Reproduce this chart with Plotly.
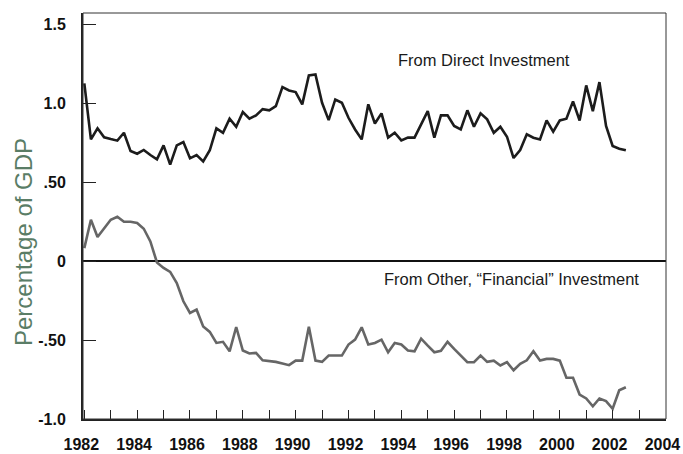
import plotly.graph_objects as go

# Quarterly observations, 1982Q1 .. 2002Q3
start_year = 1982
n_quarters = 83
quarters = [start_year + i * 0.25 for i in range(n_quarters)]

direct_investment = [
    1.127, 0.772, 0.842, 0.785, 0.774, 0.764, 0.814, 0.698, 0.681, 0.705,
    0.673, 0.646, 0.734, 0.612, 0.734, 0.755, 0.652, 0.673, 0.633, 0.703,
    0.842, 0.814, 0.903, 0.852, 0.945, 0.903, 0.924, 0.964, 0.956, 0.983,
    1.103, 1.082, 1.072, 0.994, 1.177, 1.184, 1.004, 0.894, 1.025, 1.004,
    0.909, 0.835, 0.772, 0.994, 0.873, 0.937, 0.783, 0.814, 0.766, 0.783,
    0.783, 0.867, 0.951, 0.783, 0.924, 0.924, 0.857, 0.835, 0.956, 0.852,
    0.937, 0.899, 0.814, 0.852, 0.789, 0.654, 0.705, 0.804, 0.783, 0.772,
    0.892, 0.821, 0.892, 0.903, 1.013, 0.892, 1.114, 0.951, 1.135, 0.857,
    0.730, 0.713, 0.703,
]

financial_investment = [
    0.083, 0.263, 0.153, 0.210, 0.263, 0.282, 0.250, 0.250, 0.242, 0.206,
    0.125, -0.008, -0.043, -0.068, -0.138, -0.254, -0.328, -0.307, -0.413, -0.448,
    -0.518, -0.511, -0.571, -0.417, -0.566, -0.585, -0.581, -0.628, -0.634, -0.638,
    -0.649, -0.659, -0.630, -0.630, -0.416, -0.630, -0.638, -0.598, -0.598, -0.598,
    -0.528, -0.497, -0.419, -0.528, -0.518, -0.497, -0.577, -0.518, -0.528, -0.566,
    -0.571, -0.491, -0.535, -0.577, -0.568, -0.511, -0.556, -0.598, -0.640, -0.640,
    -0.598, -0.638, -0.630, -0.661, -0.640, -0.691, -0.651, -0.628, -0.571, -0.630,
    -0.619, -0.619, -0.630, -0.739, -0.739, -0.845, -0.870, -0.919, -0.870, -0.887,
    -0.935, -0.818, -0.799,
]

x_tick_values = list(range(1982, 2005))
x_tick_labels = [str(y) if y % 2 == 0 else "" for y in x_tick_values]
y_tick_values = [-1.0, -0.5, 0.0, 0.5, 1.0, 1.5]
y_tick_labels = ["-1.0", "-.50", "0", ".50", "1.0", "1.5"]

label_direct = "From Direct Investment"
label_financial = "From Other, \u201cFinancial\u201d Investment"
y_title = "Percentage of GDP"

FONT = "Liberation Sans, Arial, sans-serif"
M_L, M_R, M_T, M_B = 83, 17, 13, 35
W, H = 683, 454
plot_w = W - M_L - M_R
plot_h = H - M_T - M_B

fig = go.Figure()
fig.add_trace(go.Scatter(
    x=quarters, y=direct_investment, mode="lines",
    line=dict(color="#1c1c1c", width=2.6), hoverinfo="skip", showlegend=False,
))
fig.add_trace(go.Scatter(
    x=quarters, y=financial_investment, mode="lines",
    line=dict(color="#666666", width=2.6), hoverinfo="skip", showlegend=False,
))

fig.update_layout(
    width=W, height=H,
    margin=dict(l=M_L, r=M_R, t=M_T, b=M_B, autoexpand=False),
    paper_bgcolor="white", plot_bgcolor="white",
    showlegend=False,
    font=dict(family=FONT),
    xaxis=dict(
        range=[1981.95, 2004.02], automargin=False,
        tickmode="array", tickvals=x_tick_values, ticktext=x_tick_labels,
        ticks="inside", ticklen=9, tickwidth=1, tickcolor="#222222",
        showgrid=False, zeroline=False,
        showline=True, linewidth=2, linecolor="#222222",
        tickfont=dict(family=FONT, size=16, color="#111111", weight="bold"),
        ticklabelstandoff=10, ticklabelshift=-3, ticklabeloverflow="allow",
    ),
    yaxis=dict(
        range=[-1.0, 1.573], automargin=False,
        tickmode="array", tickvals=y_tick_values, ticktext=y_tick_labels,
        ticks="inside", ticklen=13, tickwidth=1, tickcolor="#222222",
        showgrid=False,
        zeroline=True, zerolinecolor="#111111", zerolinewidth=1.5,
        showline=True, linewidth=2, linecolor="#222222",
        tickfont=dict(family=FONT, size=16, color="#111111", weight="bold"),
        ticklabelstandoff=12,
    ),
    shapes=[dict(
        type="rect", xref="paper", yref="paper", x0=0, x1=1, y0=0, y1=1,
        line=dict(color="#333333", width=1), fillcolor="rgba(0,0,0,0)", layer="above",
    )],
    annotations=[
        dict(text=label_direct, x=1997.12, y=1.275, xref="x", yref="y",
             showarrow=False, font=dict(size=16.5, color="#1a1a1a")),
        dict(text=label_financial, x=1998.18, y=-0.111, xref="x", yref="y",
             showarrow=False, font=dict(size=16.5, color="#1a1a1a")),
        dict(text=y_title, xref="paper", yref="paper",
             x=(23 - M_L) / plot_w, y=(H - M_B - 242) / plot_h,
             xanchor="center", yanchor="middle",
             showarrow=False, textangle=-90,
             font=dict(size=24, color="#5a7d66")),
    ],
)

fig.write_html(
    "out.html",
    config={"displayModeBar": False},
    post_script="document.body.style.margin='0';document.body.style.overflow='hidden';",
)
